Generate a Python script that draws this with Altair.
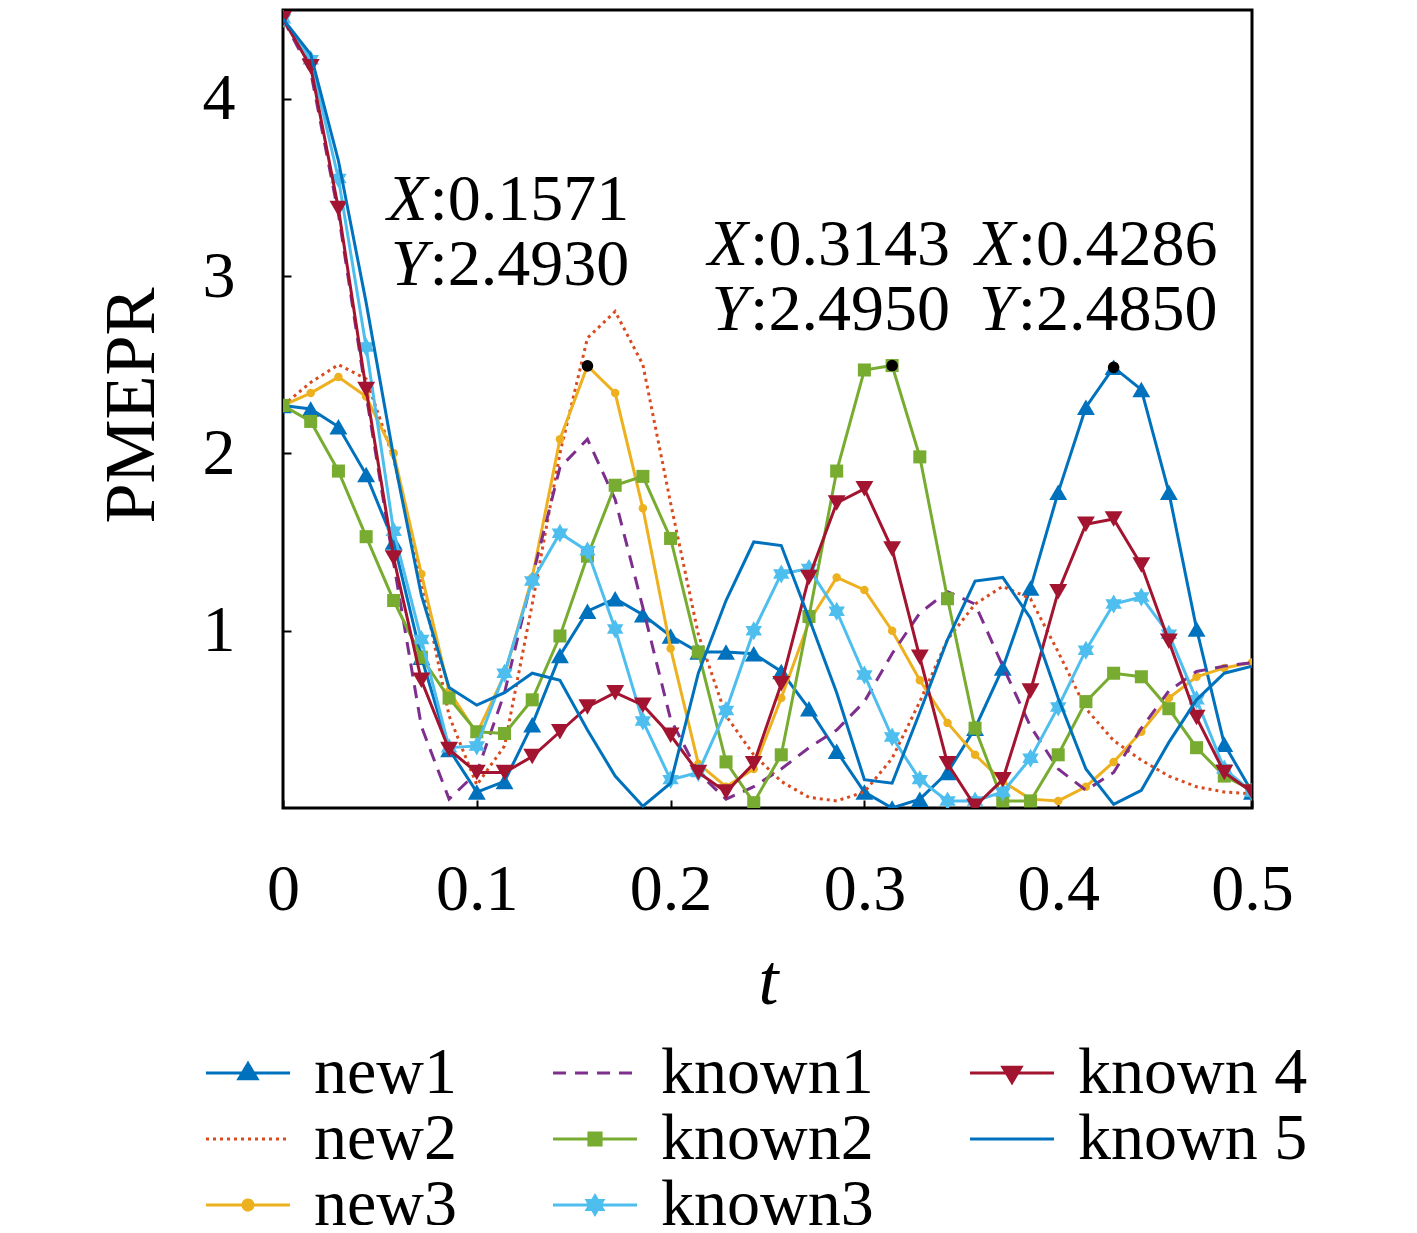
import altair as alt
import pandas as pd

# ---------------- data ----------------
t = [0, 0.0143, 0.0286, 0.0429, 0.0571, 0.0714, 0.0857, 0.1, 0.1143, 0.1286,
     0.1429, 0.1571, 0.1714, 0.1857, 0.2, 0.2143, 0.2286, 0.2429, 0.2571, 0.2714,
     0.2857, 0.3, 0.3143, 0.3286, 0.3429, 0.3571, 0.3714, 0.3857, 0.4, 0.4143,
     0.4286, 0.4429, 0.4571, 0.4714, 0.4857, 0.5]

new1 = [2.27, 2.25, 2.15, 1.88, 1.50, 0.85, 0.33, 0.09, 0.15, 0.47,
        0.86, 1.11, 1.18, 1.09, 0.97, 0.88, 0.88, 0.87, 0.77, 0.56,
        0.32, 0.09, 0.00, 0.05, 0.20, 0.45, 0.79, 1.24, 1.78, 2.26,
        2.485, 2.36, 1.78, 1.01, 0.36, 0.09]
new2 = [2.27, 2.40, 2.50, 2.42, 1.97, 1.28, 0.52, 0.13, 0.35, 1.15,
        2.00, 2.65, 2.80, 2.50, 1.72, 0.98, 0.52, 0.30, 0.15, 0.06,
        0.04, 0.09, 0.28, 0.60, 0.95, 1.15, 1.25, 1.18, 0.88, 0.56,
        0.38, 0.27, 0.18, 0.12, 0.09, 0.08]
new3 = [2.27, 2.34, 2.43, 2.32, 2.00, 1.32, 0.66, 0.42, 0.75, 1.30,
        2.08, 2.493, 2.34, 1.69, 0.90, 0.25, 0.12, 0.22, 0.62, 1.05,
        1.30, 1.23, 1.00, 0.72, 0.48, 0.30, 0.15, 0.05, 0.04, 0.12,
        0.26, 0.43, 0.62, 0.74, 0.79, 0.82]
known1 = [4.45, 4.15, 3.35, 2.33, 1.38, 0.46, 0.05, 0.20, 0.65, 1.30,
          1.92, 2.08, 1.74, 1.13, 0.50, 0.20, 0.05, 0.12, 0.22, 0.34,
          0.44, 0.60, 0.87, 1.10, 1.22, 1.15, 0.80, 0.46, 0.22, 0.10,
          0.20, 0.45, 0.66, 0.77, 0.80, 0.82]
known2 = [2.27, 2.18, 1.90, 1.53, 1.17, 0.85, 0.62, 0.43, 0.42, 0.61,
          0.97, 1.42, 1.82, 1.87, 1.52, 0.88, 0.26, 0.03, 0.30, 1.08,
          1.90, 2.47, 2.495, 1.98, 1.18, 0.45, 0.04, 0.04, 0.30, 0.60,
          0.76, 0.74, 0.56, 0.34, 0.18, 0.10]
known3 = [4.45, 4.22, 3.55, 2.60, 1.56, 0.95, 0.34, 0.35, 0.76, 1.28,
          1.55, 1.45, 1.01, 0.49, 0.16, 0.20, 0.55, 1.00, 1.32, 1.35,
          1.11, 0.75, 0.40, 0.16, 0.04, 0.04, 0.09, 0.28, 0.57, 0.89,
          1.15, 1.19, 0.98, 0.61, 0.22, 0.09]
known4 = [4.45, 4.18, 3.38, 2.36, 1.41, 0.72, 0.33, 0.20, 0.20, 0.29,
          0.43, 0.57, 0.65, 0.58, 0.41, 0.20, 0.09, 0.25, 0.70, 1.30,
          1.72, 1.80, 1.46, 0.85, 0.25, 0.01, 0.16, 0.66, 1.22, 1.60,
          1.63, 1.37, 0.94, 0.51, 0.20, 0.09]
known5 = [4.45, 4.25, 3.65, 2.85, 1.98, 1.20, 0.68, 0.58, 0.65, 0.76,
          0.72, 0.44, 0.18, 0.01, 0.14, 0.76, 1.17, 1.50, 1.48, 1.07,
          0.65, 0.16, 0.14, 0.54, 0.95, 1.28, 1.30, 1.07, 0.62, 0.22,
          0.02, 0.10, 0.37, 0.61, 0.76, 0.80]

series_names = ["new1", "new2", "new3", "known1", "known2", "known3", "known 4", "known 5"]
series_values = [new1, new2, new3, known1, known2, known3, known4, known5]

ann_x = [0.1571, 0.3143, 0.4286]
ann_y = [2.4930, 2.4950, 2.4850]

x_ticks = [0, 0.1, 0.2, 0.3, 0.4, 0.5]
y_ticks = [1, 2, 3, 4]

# legend entries (laid out column by column, 3 columns)
legend_order = series_names

# ---------------- styles ----------------
FONT = "Liberation Serif"


def hexagram(s):
    pts = [(0, -1), (0.289, -0.5), (0.866, -0.5), (0.577, 0), (0.866, 0.5), (0.289, 0.5),
           (0, 1), (-0.289, 0.5), (-0.866, 0.5), (-0.577, 0), (-0.866, -0.5), (-0.289, -0.5)]
    return "M" + "L".join(f"{px * s:.3f},{py * s:.3f}" for px, py in pts) + "Z"


LINE = "M-2,0H2"
style = {
    "new1": dict(color="#0072BD", dash=None, shape="triangle-up", size=320,
                 leg=LINE + "M0,-0.45L0.43,0.27L-0.43,0.27Z"),
    "new2": dict(color="#D94A1E", dash=[3, 4], shape=None, leg=LINE),
    "new3": dict(color="#EDB120", dash=None, shape="circle", size=72,
                 leg=LINE + "M-0.24,0A0.24,0.24,0,1,0,0.24,0A0.24,0.24,0,1,0,-0.24,0Z"),
    "known1": dict(color="#7E2F8E", dash=[13, 9], shape=None, leg=LINE),
    "known2": dict(color="#77AC30", dash=None, shape="square", size=170,
                   leg=LINE + "M-0.29,-0.29H0.29V0.29H-0.29Z"),
    "known3": dict(color="#4DBEEE", dash=None, shape=hexagram(1), size=360,
                   leg=LINE + hexagram(0.43)),
    "known 4": dict(color="#A2142F", dash=None, shape="triangle-down", size=320,
                    leg=LINE + "M0,0.45L0.43,-0.27L-0.43,-0.27Z"),
    "known 5": dict(color="#0072BD", dash=None, shape=None, leg=LINE),
}

rows = []
for name, vals in zip(series_names, series_values):
    for tt, v in zip(t, vals):
        rows.append({"t": tt, "value": v, "series": name})
df = pd.DataFrame(rows)

xscale = alt.Scale(domain=[0, 0.5], nice=False, zero=False)
yscale = alt.Scale(domain=[0, 4.5], nice=False, zero=False)

xaxis = alt.Axis(values=x_ticks, format="~g", offset=-8, tickSize=8, labelPadding=49,
                 labelFlush=False, title="t", titleFontStyle="italic", titleX=485, titleY=203,
                 titleBaseline="alphabetic", titleAlign="center")
yaxis = alt.Axis(values=y_ticks, format="d", offset=-8, tickSize=8, labelPadding=48,
                 labelFlush=False, title="PMEPR", titleAngle=270, titleX=-138, titleY=395,
                 titleBaseline="alphabetic", titleAlign="center")

X = alt.X("t:Q", scale=xscale, axis=xaxis)
Y = alt.Y("value:Q", scale=yscale, axis=yaxis)

layers = []
for name in series_names:
    st = style[name]
    sub = alt.Chart(df).transform_filter(alt.datum.series == name)
    line_kw = dict(color=st["color"], strokeWidth=3, clip=True)
    if st["dash"]:
        line_kw["strokeDash"] = st["dash"]
    layers.append(sub.mark_line(**line_kw).encode(x=X, y=Y))
    if st["shape"]:
        layers.append(sub.mark_point(shape=st["shape"], size=st["size"], filled=True,
                                     color=st["color"], opacity=1, clip=True).encode(x=X, y=Y))

# legend (built by Vega-Lite from scales; this layer holds no marks)
leg = alt.Legend(title=None, orient="none", legendX=-68, legendY=1030, columns=3,
                 symbolSize=1764, symbolStrokeWidth=3, labelFont=FONT, labelFontSize=66,
                 labelColor="black", labelOffset=33, rowPadding=-6, columnPadding=90,
                 padding=0, labelLimit=500)
leg_colors = [style[n]["color"] for n in legend_order]
leg_paths = [style[n]["leg"] for n in legend_order]
leg_dash = [style[n]["dash"] if style[n]["dash"] else [1, 0] for n in legend_order]
legend_layer = alt.Chart(df).transform_filter("false").mark_point(opacity=1).encode(
    x=X, y=Y,
    fill=alt.Fill("series:N", scale=alt.Scale(domain=legend_order, range=leg_colors), legend=leg),
    stroke=alt.Stroke("series:N", scale=alt.Scale(domain=legend_order, range=leg_colors), legend=leg),
    shape=alt.Shape("series:N", scale=alt.Scale(domain=legend_order, range=leg_paths), legend=leg),
    strokeDash=alt.StrokeDash("series:N", scale=alt.Scale(domain=legend_order, range=leg_dash), legend=leg),
)
layers.append(legend_layer)

# data tips
ann_offsets = [(-160, -146), (-144, -101), (-98, -102)]
for (ax, ay), (ddx, ddy) in zip(zip(ann_x, ann_y), ann_offsets):
    adf = pd.DataFrame({"t": [ax], "value": [ay], "lab": ["X\nY"],
                        "num": [f":{ax:.4f}\n:{ay:.4f}"]})
    base = alt.Chart(adf)
    layers.append(base.mark_circle(size=135, color="black", opacity=1).encode(x=X, y=Y))
    layers.append(base.mark_text(font=FONT, fontSize=66, fontStyle="italic", align="right",
                                 baseline="alphabetic", dx=ddx, dy=ddy, lineBreak="\n",
                                 lineHeight=65, color="black").encode(x=X, y=Y, text="lab:N"))
    layers.append(base.mark_text(font=FONT, fontSize=66, align="left",
                                 baseline="alphabetic", dx=ddx + 2, dy=ddy, lineBreak="\n",
                                 lineHeight=65, color="black").encode(x=X, y=Y, text="num:N"))

chart = alt.layer(*layers).properties(
    width=969, height=798,
    autosize=alt.AutoSizeParams(type="none"),
    padding={"left": 275, "top": 2, "right": 157, "bottom": 417},
    background="white",
).configure_view(
    stroke="black", strokeWidth=3
).configure_axis(
    grid=False, domain=False, tickColor="black", tickWidth=2,
    labelFont=FONT, labelFontSize=66, labelColor="black",
    titleFont=FONT, titleFontSize=72, titleFontWeight="normal", titleColor="black",
)

chart.save("out.html", embed_options={"renderer": "svg", "actions": False})
